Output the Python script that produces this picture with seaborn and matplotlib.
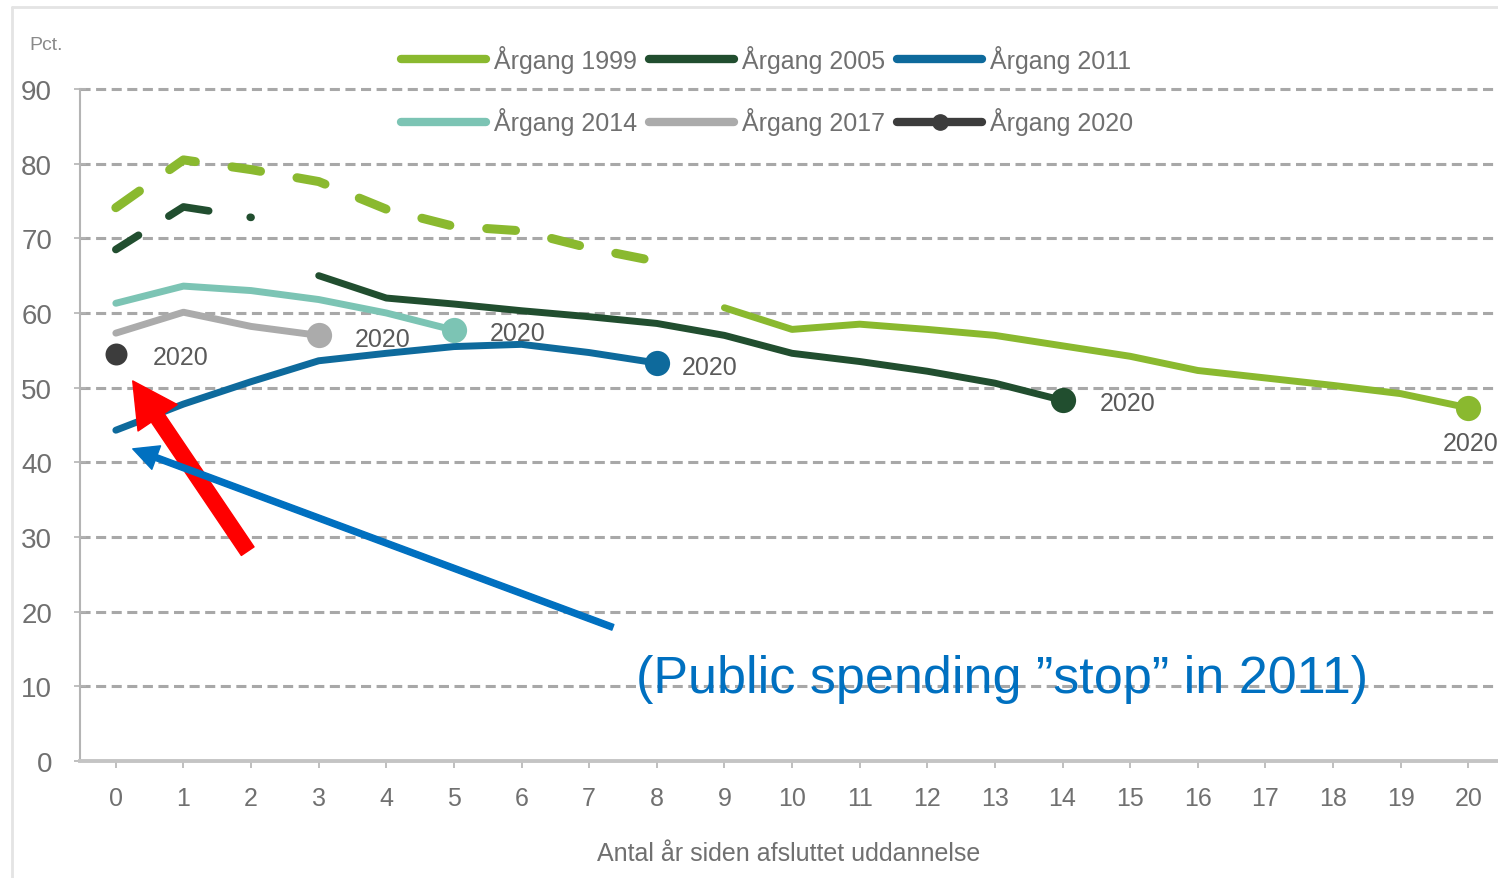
import seaborn as sns
import matplotlib.pyplot as plt
from matplotlib.lines import Line2D
from matplotlib.patches import FancyArrowPatch

# Årgang 1999: dashed part (0-8) and solid part (9-20)
years_1999_a = [0, 1, 2, 3, 4, 5, 6, 7, 8]
pct_1999_a = [74.1, 80.5, 79.2, 77.6, 73.9, 71.6, 71.0, 68.7, 66.9]
years_1999_b = [9, 10, 11, 12, 13, 14, 15, 16, 17, 18, 19, 20]
pct_1999_b = [60.7, 57.8, 58.5, 57.8, 57.0, 55.6, 54.2, 52.3, 51.3, 50.3, 49.2, 47.3]

# Årgang 2005: dashed part (0-2) and solid part (3-14)
years_2005_a = [0, 1, 2]
pct_2005_a = [68.5, 74.2, 72.8]
years_2005_b = [3, 4, 5, 6, 7, 8, 9, 10, 11, 12, 13, 14]
pct_2005_b = [65.0, 62.0, 61.2, 60.3, 59.5, 58.6, 57.0, 54.6, 53.5, 52.2, 50.6, 48.3]

years_2011 = [0, 1, 2, 3, 4, 5, 6, 7, 8]
pct_2011 = [44.3, 47.8, 50.8, 53.6, 54.6, 55.5, 55.8, 54.7, 53.3]

years_2014 = [0, 1, 2, 3, 4, 5]
pct_2014 = [61.3, 63.6, 63.0, 61.8, 60.0, 57.7]

years_2017 = [0, 1, 2, 3]
pct_2017 = [57.3, 60.1, 58.2, 57.0]

years_2020 = [0]
pct_2020 = [54.5]

labels = ["Årgang 1999", "Årgang 2005", "Årgang 2011",
          "Årgang 2014", "Årgang 2017", "Årgang 2020"]
colors = ["#8AB92F", "#214E2F", "#0E6A9C", "#7CC4B4", "#ABABAB", "#3C3C3C"]
end_label = "2020"
note = "(Public spending \u201dstop\u201d in 2011)"
xlabel = "Antal år siden afsluttet uddannelse"

sns.set_theme(style="white")
plt.rcParams['font.family'] = ['Liberation Sans', 'DejaVu Sans']

W, H = 1498, 879
fig = plt.figure(figsize=(W / 100, H / 100), dpi=100)
# 0 at y=762px, 90 at y=90px; year 0 at x=116px, year 20 at x=1468px
ax = fig.add_axes([80 / W, (H - 762) / H, 1418 / W, (762 - 82.5) / H])
ax.set_xlim(-0.53, 20.44)
ax.set_ylim(0, 91)

sns.lineplot(x=years_1999_a, y=pct_1999_a, ax=ax, color=colors[0], linewidth=6.5,
             linestyle=(0, (3.2, 4.1)), dash_capstyle='round',
             errorbar=None, legend=False)
sns.lineplot(x=years_1999_b, y=pct_1999_b, ax=ax, color=colors[0], linewidth=5,
             errorbar=None, legend=False)
sns.lineplot(x=years_2005_a, y=pct_2005_a, ax=ax, color=colors[1], linewidth=5.5,
             linestyle=(0, (3.5, 4.7, 5.6, 5.5)), dash_capstyle='round',
             errorbar=None, legend=False)
sns.lineplot(x=years_2005_b, y=pct_2005_b, ax=ax, color=colors[1], linewidth=5,
             errorbar=None, legend=False)
sns.lineplot(x=years_2011, y=pct_2011, ax=ax, color=colors[2], linewidth=5,
             errorbar=None, legend=False)
sns.lineplot(x=years_2014, y=pct_2014, ax=ax, color=colors[3], linewidth=5,
             errorbar=None, legend=False)
sns.lineplot(x=years_2017, y=pct_2017, ax=ax, color=colors[4], linewidth=5,
             errorbar=None, legend=False)

# end points (2020) with labels
ends = [
    (years_1999_b, pct_1999_b, colors[0], (2, -35)),
    (years_2005_b, pct_2005_b, colors[1], (65, -3)),
    (years_2011, pct_2011, colors[2], (53, -4)),
    (years_2014, pct_2014, colors[3], (64, -3)),
    (years_2017, pct_2017, colors[4], (64, -4)),
    (years_2020, pct_2020, colors[5], (65, -3)),
]
for xs, ys, c, off in ends:
    size = 250 if xs is years_2020 else 330
    sns.scatterplot(x=[xs[-1]], y=[ys[-1]], ax=ax, color=c, s=size,
                    linewidth=0, zorder=5, legend=False)
    ax.annotate(end_label, xy=(xs[-1], ys[-1]), xytext=off,
                textcoords='offset pixels', ha='center', va='center',
                fontsize=18, color='#5a5a5a', zorder=6)

# axes styling
ax.set_yticks(range(0, 100, 10))
ax.set_xticks(range(0, 21))
ax.yaxis.grid(True, color='#a8a8a8', linestyle=(0, (3.3, 1.8)), linewidth=2.2)
ax.xaxis.grid(False)
ax.set_axisbelow(True)
for s in ['top', 'right']:
    ax.spines[s].set_visible(False)
ax.spines['left'].set_color('#b4b4b4')
ax.spines['left'].set_linewidth(1.5)
ax.spines['left'].set_bounds(0, 90)
ax.spines['bottom'].set_color('#c4c4c4')
ax.spines['bottom'].set_linewidth(2.8)
ax.tick_params(axis='x', bottom=True, direction='out', length=5, width=1.2,
               color='#b4b4b4', pad=13, labelsize=18, labelcolor='#707070')
ax.tick_params(axis='y', left=True, direction='inout', length=8, width=1.2,
               color='#b4b4b4', pad=16, labelsize=20, labelcolor='#707070')
ax.set_xlabel(xlabel, fontsize=18, color='#707070', labelpad=22)
ax.set_ylabel('')
fig.text(46 / W, 1 - 45 / H, 'Pct.', fontsize=14, color='#8a8a8a',
         ha='center', va='center')

# legend: row 1 = 1999, 2005, 2011; row 2 = 2014, 2017, 2020
handles = [Line2D([], [], color=c, lw=6) for c in colors[:5]]
handles.append(Line2D([], [], color=colors[5], lw=6, marker='o', markersize=11))
order = [0, 3, 1, 4, 2, 5]
ax.legend([handles[i] for i in order], [labels[i] for i in order], ncol=3,
          loc='center', bbox_to_anchor=(767 / W, 1 - 91 / H),
          bbox_transform=fig.transFigure, frameon=False, fontsize=18,
          labelcolor='#707070', handlelength=3.4, handletextpad=0.3,
          columnspacing=0.5, labelspacing=1.4)

# annotations
red = FancyArrowPatch(posA=(1.95, 28.1), posB=(0.25, 50.9),
                      arrowstyle='simple,head_length=32,head_width=34,tail_width=11',
                      mutation_scale=1, color='#ff0000', shrinkA=0, shrinkB=0,
                      zorder=8)
ax.add_patch(red)
blue = FancyArrowPatch(posA=(7.35, 17.9), posB=(0.25, 41.8),
                       arrowstyle='simple,head_length=18,head_width=18,tail_width=4.3',
                       mutation_scale=1, color='#0070C0', shrinkA=0, shrinkB=0,
                       zorder=8)
ax.add_patch(blue)
ax.text(13.1, 11.0, note, ha='center', va='center', fontsize=37.5,
        color='#0070C0', zorder=9)

# thin frame of the screenshot
fig.add_artist(Line2D([12 / W, 12 / W], [0, 1 - 8 / H], transform=fig.transFigure,
                      color='#e4e4e4', lw=2))
fig.add_artist(Line2D([12 / W, 1], [1 - 8 / H, 1 - 8 / H], transform=fig.transFigure,
                      color='#e4e4e4', lw=2))

fig.savefig('out.png', dpi=100)
